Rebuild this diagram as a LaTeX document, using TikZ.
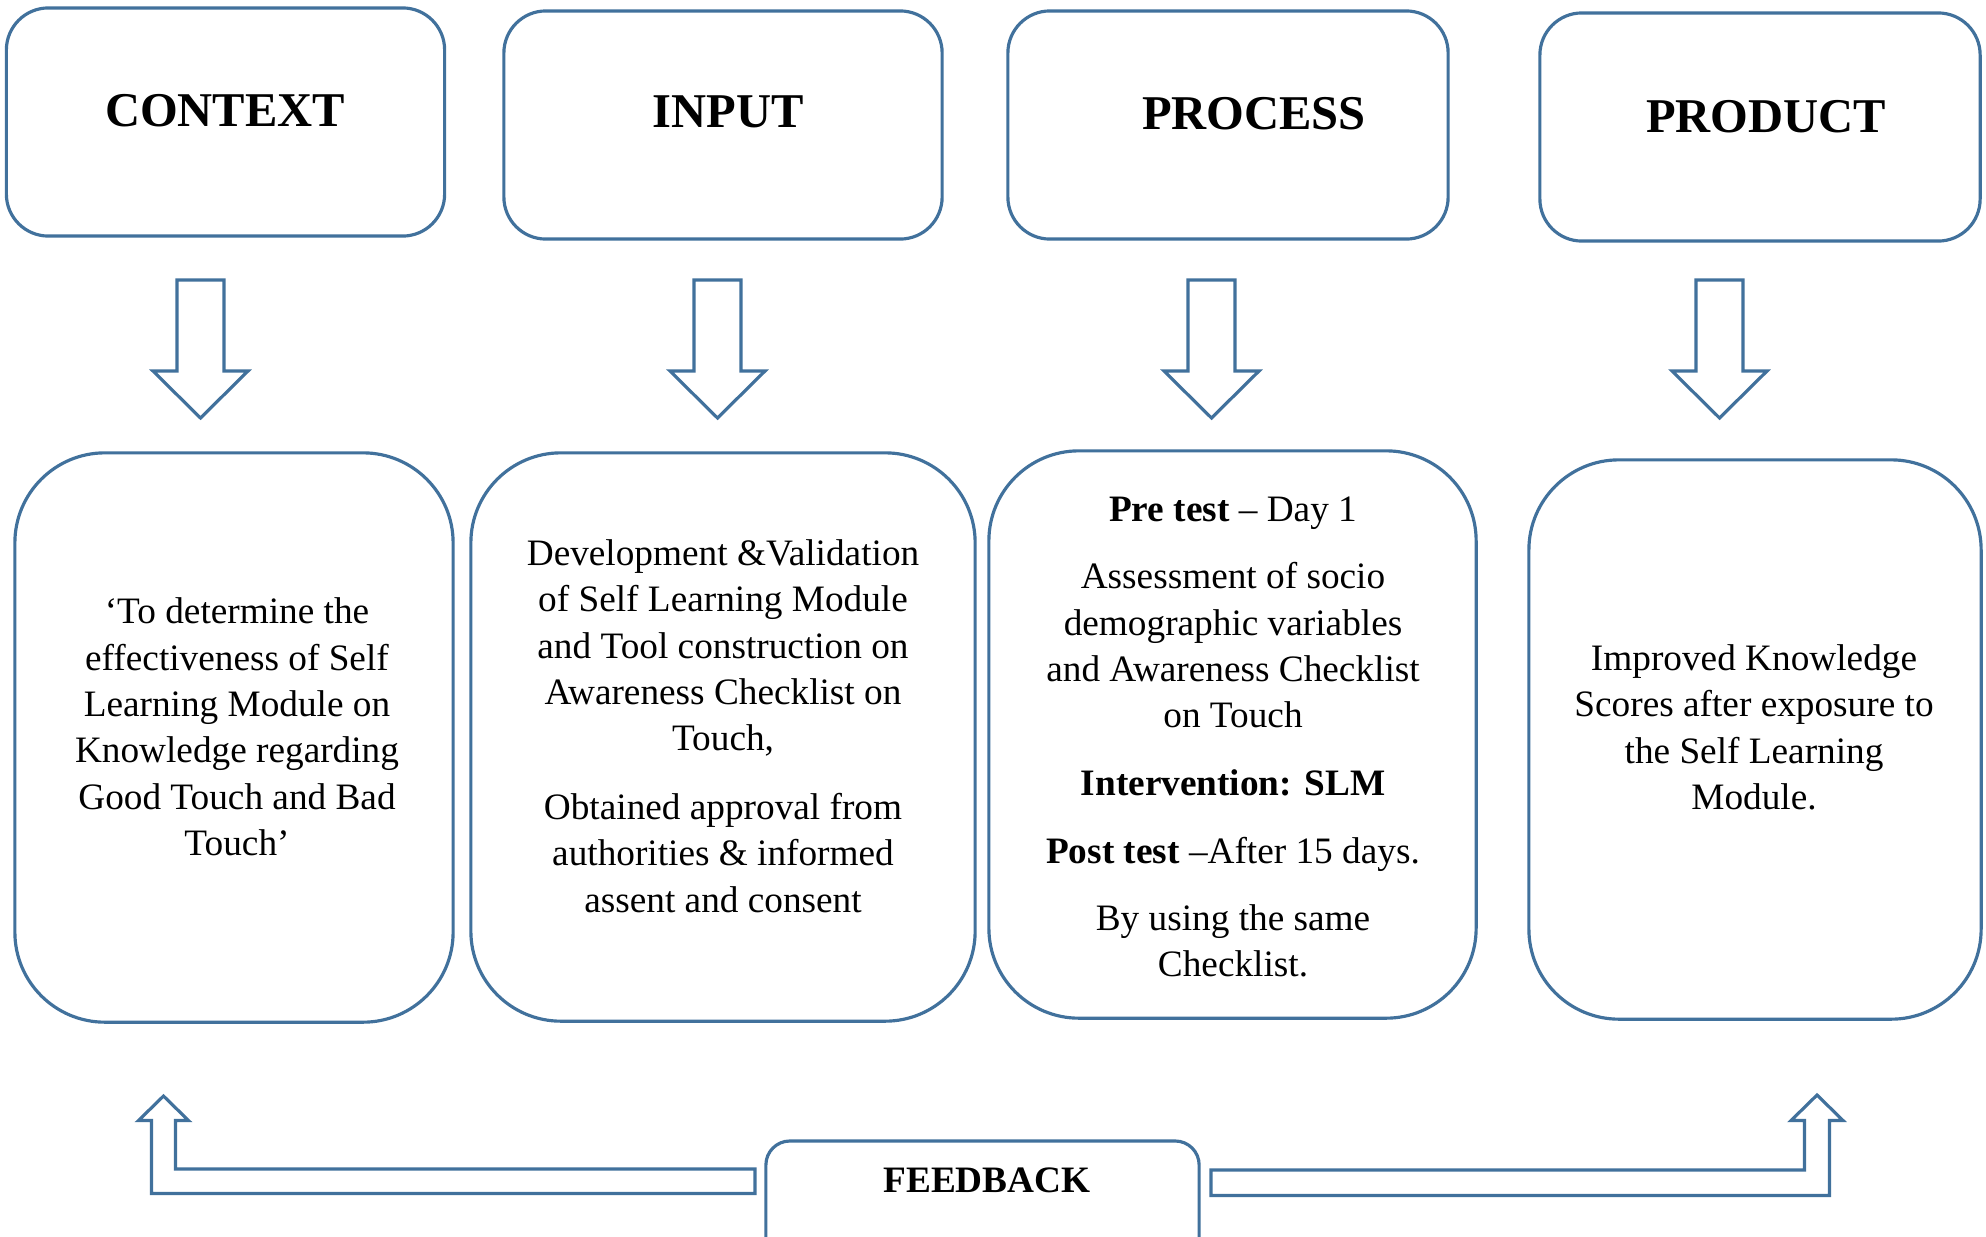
\documentclass[tikz,border=0pt]{standalone}
\usepackage{fontspec}
\setmainfont{Liberation Serif}
\definecolor{frameblue}{HTML}{41719C}
\tikzset{
	box/.style={draw=frameblue, line width=0.9pt, rectangle, inner sep=0pt},
	topbox/.style={box, rounded corners=0.42cm},
	bigbox/.style={box, rounded corners=0.9cm},
	fbbox/.style={box, rounded corners=0.24cm},
	headtxt/.style={inner sep=0pt, font=\fontsize{13.8}{16}\selectfont\bfseries},
	bodytxt/.style={inner sep=0pt, align=center, font=\fontsize{10.6}{13.2}\selectfont},
	blockarrow/.style={draw=frameblue, line width=0.9pt, line join=miter}
}
\newcommand\blockdown[2]{\draw[blockarrow] (#1-23.5,#2) -- (#1+23.5,#2) -- (#1+23.5,#2+91) -- (#1+47.5,#2+91) -- (#1,#2+138) -- (#1-47.5,#2+91) -- (#1-23.5,#2+91) -- cycle;}

\begin{document}
\begin{tikzpicture}[x=0.01cm, y=-0.01cm]
			%%%%% START %%%%%
			\useasboundingbox (0,0) rectangle (1986,1236);
			\fill[white] (0,0) rectangle (1986,1236);
			
			\node[topbox, minimum width=4.38cm, minimum height=2.28cm] (ctxbox) at (225.5,122) {};
			\node[topbox, minimum width=4.38cm, minimum height=2.28cm] (inpbox) at (723,125) {};
			\node[topbox, minimum width=4.40cm, minimum height=2.28cm] (prcbox) at (1228,125) {};
			\node[topbox, minimum width=4.40cm, minimum height=2.28cm] (prdbox) at (1760,127) {};
			
			\node[headtxt] (ctxhead) at (225,111) {CONTEXT};
			\node[headtxt] (inphead) at (728,111.5) {INPUT};
			\node[headtxt] (prchead) at (1254,114) {PROCESS};
			\node[headtxt] (prdhead) at (1766,116.5) {PRODUCT};
			
			\blockdown{200.5}{280}
			\blockdown{717.5}{280}
			\blockdown{1211.5}{280}
			\blockdown{1719.5}{280}
			
			\node[bigbox, minimum width=4.38cm, minimum height=5.69cm] (ctxbody) at (234,737.5) {};
			\node[bigbox, minimum width=5.04cm, minimum height=5.68cm] (inpbody) at (723,737) {};
			\node[bigbox, minimum width=4.87cm, minimum height=5.67cm] (prcbody) at (1232.5,734.5) {};
			\node[bigbox, minimum width=4.52cm, minimum height=5.59cm] (prdbody) at (1755,739.5) {};
			
			\node[bodytxt] (ctxtext) at (237,727) {‘To determine the\\ effectiveness of Self\\ Learning Module on\\ Knowledge regarding\\ Good Touch and Bad\\ Touch’};
			\node[bodytxt] (inptext) at (723,726) {Development \&Validation\\ of Self Learning Module\\ and Tool construction on\\ Awareness Checklist on\\ Touch,\\[6.3pt] Obtained approval from\\ authorities \& informed\\ assent and consent};
			\node[bodytxt] (prctext) at (1233,737) {\textbf{Pre test} – Day 1\\[6pt] Assessment of socio\\ demographic variables\\ and Awareness Checklist\\ on Touch\\[6pt] \textbf{Intervention: SLM}\\[6pt] \textbf{Post test} –After 15 days.\\[6pt] By using the same\\ Checklist.};
			\node[bodytxt] (prdtext) at (1754,727.5) {Improved Knowledge\\ Scores after exposure to\\ the Self Learning\\ Module.};
			
			% feedback
			\node[fbbox, minimum width=4.33cm, minimum height=1.20cm] (fbbox) at (982.5,1201) {};
			\node[headtxt, font=\fontsize{10.6}{13}\selectfont\bfseries] (fbhead) at (987,1180) {FEEDBACK};
			
			\draw[blockarrow] (755,1169) -- (175.5,1169) -- (175.5,1120.5) -- (188.5,1120.5) -- (163.5,1096) -- (138.5,1120.5) -- (151.5,1120.5) -- (151.5,1193.5) -- (755,1193.5) -- cycle;
			\draw[blockarrow] (1211,1170) -- (1804.5,1170) -- (1804.5,1120.5) -- (1791,1120.5) -- (1817,1095) -- (1843,1120.5) -- (1829.5,1120.5) -- (1829.5,1195.5) -- (1211,1195.5) -- cycle;
			
			%%%%% END %%%%%
\end{tikzpicture}
\end{document}
